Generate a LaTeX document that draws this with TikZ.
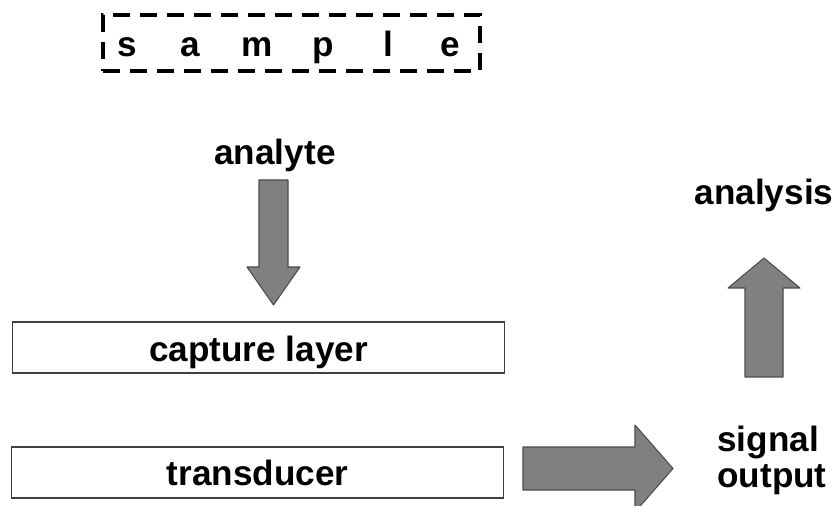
\documentclass[tikz,border=0pt]{standalone}
\usepackage{fontspec}
\setmainfont{Liberation Sans}

\begin{document}
\begin{tikzpicture}
  [x=0.02cm,y=-0.02cm,
   every node/.style={font=\fontsize{20}{20}\selectfont\bfseries, inner sep=0pt},
   samplebox/.style={draw, line width=2pt, dash pattern=on 0.34cm off 0.2cm,
     minimum width=7.54cm, minimum height=1.12cm},
   layer/.style={draw=black!75, line width=0.6pt, minimum width=9.86cm,
     minimum height=1.02cm, text height=16pt, text depth=0pt},
   blockarrow/.style={fill=black!50, draw=black!70, line width=0.6pt, line join=round}]
  \useasboundingbox (0,0) rectangle (835,506);
  \clip (0,0) rectangle (835,506);

  \node[samplebox] (sample) at (291.5,43) {};
  \foreach \ch/\x in {s/127,a/190,m/257,p/323,l/388,e/450}
    \node[anchor=base] (letter-\ch) at (\x,57) {\ch};

  \node[anchor=base] (analyte) at (275,165) {analyte};
  \node[layer] (capture) at (258.5,347.5) {capture layer};
  \node[layer, text height=15pt] (transducer) at (257.5,472.5) {transducer};
  \node[anchor=base west, align=left] (signal) at (717,487) {signal\\output};
  \node[anchor=base] (analysis) at (764,205) {analysis};

  \draw[blockarrow] (259,180) -- (288,180) -- (288,267) -- (300,267)
    -- (273.5,305) -- (247,267) -- (259,267) -- cycle;
  \draw[blockarrow] (523,447) -- (635,447) -- (635,425) -- (673,468.5)
    -- (635,512) -- (635,490) -- (523,490) -- cycle;
  \draw[blockarrow] (745,377) -- (783,377) -- (783,288) -- (800,288)
    -- (764,258) -- (728,288) -- (745,288) -- cycle;
\end{tikzpicture}
\end{document}
